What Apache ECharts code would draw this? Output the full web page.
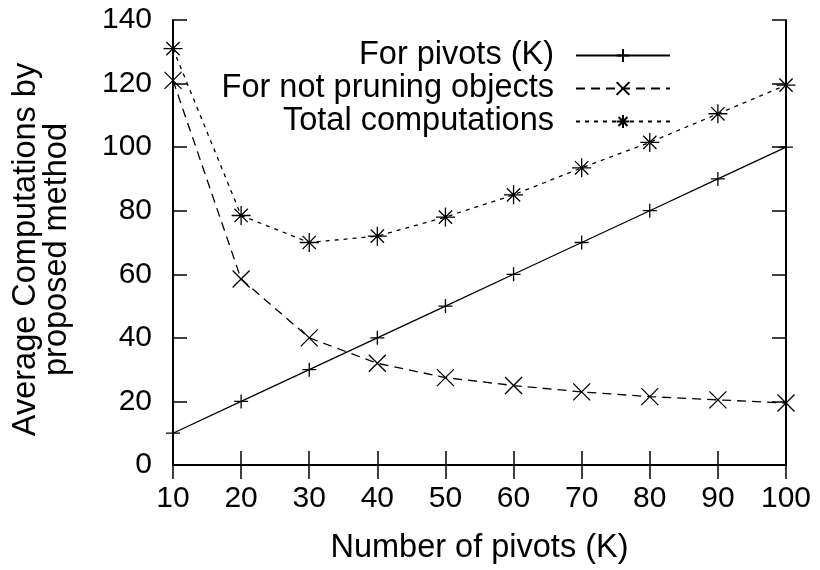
<!DOCTYPE html>
<html><head><meta charset="utf-8">
<script src="https://cdn.jsdelivr.net/npm/echarts@6/dist/echarts.min.js"></script>
<style>html,body{margin:0;padding:0;background:#fff}#c{width:820px;height:570px}</style>
</head><body><div id="c"></div>
<script>
const pivots = [10,20,30,40,50,60,70,80,90,100];
const forPivots = [10,20,30,40,50,60,70,80,90,100];
const notPruning = [121,58.5,40,32,27.5,25,23,21.5,20.5,19.5];
const total = [131,78.5,70,72,78,85,93.5,101.5,110.5,119.5];
const seriesNames = ['For pivots (K)','For not pruning objects','Total computations'];
const xTitle = 'Number of pivots (K)';
const yTitle = 'Average Computations by\nproposed method';

const FONT = 'Liberation Sans';
const FS = 30;   // tick labels
const TS = 32.5; // titles, legend
const plus = 'path://M5,0L5,10M0,5L10,5';
const cross = 'path://M0,0L10,10M0,10L10,0';
const star = 'path://M5,0L5,10M0,5L10,5M1.5,1.5L8.5,8.5M1.5,8.5L8.5,1.5';
const pair = a => pivots.map((x,i)=>[x,a[i]]);

const tickStyle = {show:true, inside:true, length:14, lineStyle:{color:'#000', width:1.5}};
const lineAx = {show:true, lineStyle:{color:'#000', width:2}};
const sym = {color:'#000', borderColor:'#000', borderWidth:1.3};

const chart = echarts.init(document.getElementById('c'), null, {renderer:'canvas'});
chart.setOption({
  animation:false,
  backgroundColor:'#fff',
  textStyle:{fontFamily:FONT, color:'#000'},
  grid:{left:173, right:34, top:20, bottom:102},
  legend:{
    orient:'vertical', align:'right', right:144, top:34,
    itemWidth:94, itemHeight:16, itemGap:0,
    textStyle:{fontFamily:FONT, fontSize:TS, color:'#000', lineHeight:32.5, padding:[0,17,0,0]},
    data:seriesNames
  },
  xAxis:[
    {type:'value', min:10, max:100, interval:10, position:'bottom',
     axisLine:lineAx, axisTick:tickStyle, splitLine:{show:false},
     axisLabel:{fontFamily:FONT, fontSize:FS, color:'#000', margin:19},
     name:xTitle, nameLocation:'middle', nameGap:67,
     nameTextStyle:{fontFamily:FONT, fontSize:TS, color:'#000'}},
    {type:'value', min:10, max:100, interval:10, position:'top',
     axisLine:lineAx, axisTick:tickStyle, axisLabel:{show:false}, splitLine:{show:false}}
  ],
  yAxis:[
    {type:'value', min:0, max:140, interval:20, position:'left',
     axisLine:lineAx, axisTick:tickStyle, splitLine:{show:false},
     axisLabel:{fontFamily:FONT, fontSize:FS, color:'#000', margin:21},
     name:yTitle, nameLocation:'middle', nameGap:100, nameRotate:90,
     nameTextStyle:{fontFamily:FONT, fontSize:TS, color:'#000', lineHeight:31, padding:[0,14,0,0]}},
    {type:'value', min:0, max:140, interval:20, position:'right',
     axisLine:lineAx, axisTick:tickStyle, axisLabel:{show:false}, splitLine:{show:false}}
  ],
  series:[
    {name:seriesNames[0], type:'line', data:pair(forPivots), symbol:plus, symbolSize:14,
     lineStyle:{color:'#000', width:1.3, type:'solid'}, itemStyle:sym, clip:false},
    {name:seriesNames[1], type:'line', data:pair(notPruning), symbol:cross, symbolSize:17,
     lineStyle:{color:'#000', width:1.3, type:[9,6]}, itemStyle:sym, clip:false},
    {name:seriesNames[2], type:'line', data:pair(total), symbol:star, symbolSize:19,
     lineStyle:{color:'#000', width:1.3, type:[4,5]}, itemStyle:sym, clip:false}
  ]
});
</script></body></html>
